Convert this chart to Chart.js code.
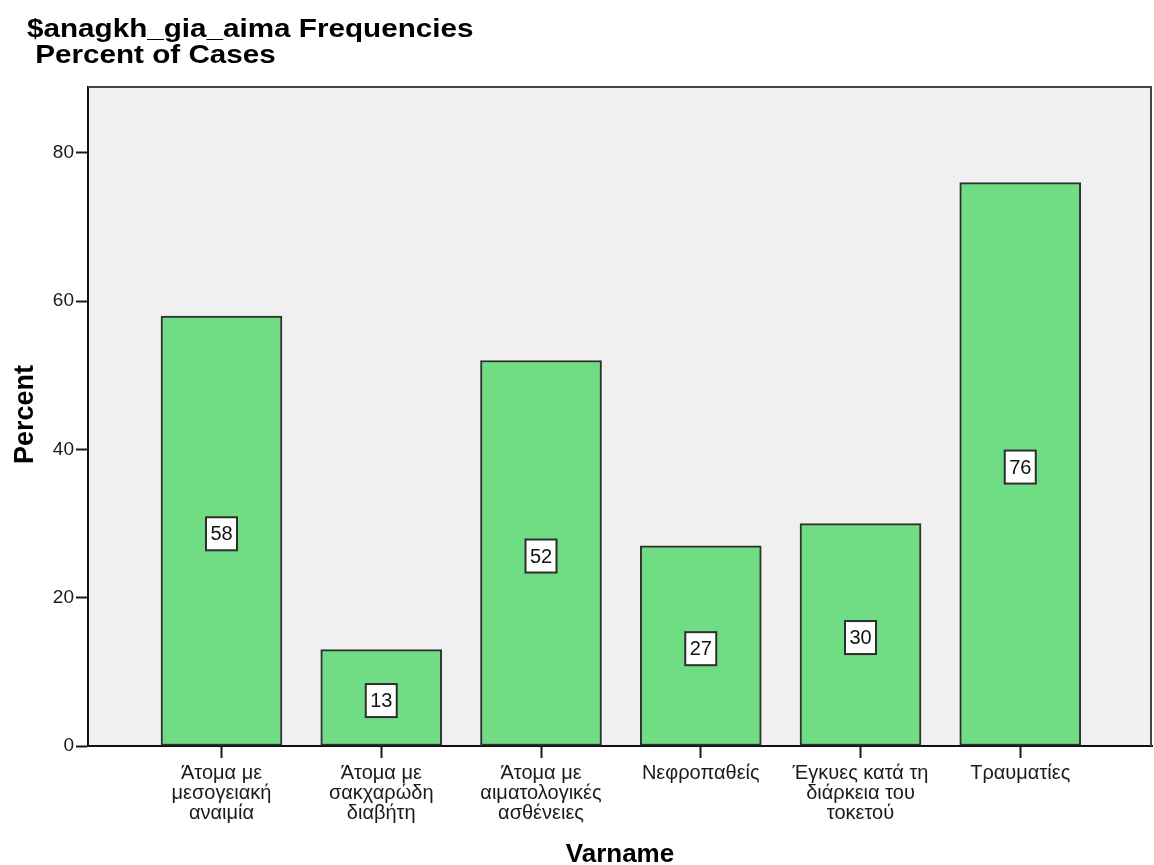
<!DOCTYPE html>
<html>
<head>
<meta charset="utf-8">
<style>
  html, body { margin: 0; padding: 0; background: #fff; }
  canvas { display: block; }
</style>
<script src="https://cdn.jsdelivr.net/npm/chart.js@4/dist/chart.umd.min.js"></script>
</head>
<body>
<canvas id="chart" width="1154" height="865" style="width:1154px;height:865px"></canvas>
<script>
// Categories (wrapped label lines) and percent of cases for each
const categories = [
  ['Άτομα με', 'μεσογειακή', 'αναιμία'],
  ['Άτομα με', 'σακχαρώδη', 'διαβήτη'],
  ['Άτομα με', 'αιματολογικές', 'ασθένειες'],
  ['Νεφροπαθείς'],
  ['Έγκυες κατά τη', 'διάρκεια του', 'τοκετού'],
  ['Τραυματίες']
];
const percentOfCases = [58, 13, 52, 27, 30, 76];
const percentTicks = [0, 20, 40, 60, 80];

const titleLines = ['$anagkh_gia_aima Frequencies', ' Percent of Cases'];
const yTitle = 'Percent';
const xTitle = 'Varname';

const FONT = "'Liberation Sans', Arial, sans-serif";

// Plot background, value boxes, frame and titles
const decor = {
  id: 'decor',
  beforeDraw(chart) {
    const { ctx, chartArea: a } = chart;
    ctx.save();
    ctx.fillStyle = '#ffffff';
    ctx.fillRect(0, 0, chart.width, chart.height);
    ctx.fillStyle = '#f0f0f0';
    ctx.fillRect(a.left, a.top, a.right - a.left, a.bottom - a.top);
    ctx.restore();
  },
  afterDatasetsDraw(chart) {
    const { ctx } = chart;
    const meta = chart.getDatasetMeta(0);
    ctx.save();
    ctx.font = '20px ' + FONT;
    ctx.textAlign = 'center';
    ctx.textBaseline = 'middle';
    meta.data.forEach((bar, i) => {
      const cx = bar.x;
      const cy = (bar.y + bar.base) / 2 + 3;
      const w = 31, h = 33;
      ctx.fillStyle = '#ffffff';
      ctx.fillRect(cx - w / 2, cy - h / 2, w, h);
      ctx.strokeStyle = '#2e2e2e';
      ctx.lineWidth = 2;
      ctx.strokeRect(cx - w / 2, cy - h / 2, w, h);
      ctx.fillStyle = '#111111';
      ctx.fillText(String(percentOfCases[i]), cx, cy + 1);
    });
    ctx.restore();
  },
  afterDraw(chart) {
    const { ctx, chartArea: a } = chart;
    ctx.save();
    // top and right frame edges
    ctx.strokeStyle = '#444444';
    ctx.lineWidth = 2;
    ctx.beginPath();
    ctx.moveTo(a.left, a.top);
    ctx.lineTo(a.right - 1, a.top);
    ctx.lineTo(a.right - 1, a.bottom);
    ctx.stroke();

    // chart title (slightly widened letterforms)
    ctx.fillStyle = '#000000';
    ctx.textAlign = 'left';
    ctx.textBaseline = 'alphabetic';
    ctx.font = 'bold 26px ' + FONT;
    ctx.save();
    ctx.translate(27, 0);
    ctx.scale(1.14, 1);
    ctx.fillText(titleLines[0], 0, 37);
    ctx.fillText(titleLines[1], 0, 63);
    ctx.restore();

    // axis titles
    ctx.textAlign = 'center';
    ctx.font = 'bold 26px ' + FONT;
    ctx.fillText(xTitle, (a.left + a.right) / 2, 862);
    ctx.font = 'bold 27px ' + FONT;
    ctx.translate(33, (a.top + a.bottom) / 2 - 2);
    ctx.rotate(-Math.PI / 2);
    ctx.fillText(yTitle, 0, 0);
    ctx.restore();
  }
};

new Chart(document.getElementById('chart'), {
  type: 'bar',
  data: {
    datasets: [{
      data: percentOfCases.map((v, i) => ({ x: i, y: v })),
      backgroundColor: '#70dc84',
      borderColor: '#2f2f2f',
      borderWidth: 2,
      borderSkipped: false,
      barThickness: 121
    }]
  },
  options: {
    responsive: false,
    animation: false,
    devicePixelRatio: 1,
    layout: { padding: { top: 87, right: 2, left: 0, bottom: 0 } },
    plugins: {
      legend: { display: false },
      tooltip: { enabled: false },
      title: { display: false }
    },
    scales: {
      x: {
        type: 'linear',
        offset: false,
        min: -0.8357,
        max: 5.8247,
        afterBuildTicks(scale) {
          scale.ticks = categories.map((c, i) => ({ value: i }));
        },
        afterFit(scale) { scale.height = 119; },
        ticks: {
          autoSkip: false,
          maxRotation: 0,
          minRotation: 0,
          padding: 5,
          color: '#1a1a1a',
          font: { family: FONT, size: 20, lineHeight: 1.0 },
          callback: (value) => categories[value]
        },
        grid: {
          display: true,
          offset: false,
          drawOnChartArea: false,
          drawTicks: true,
          tickLength: 12,
          tickWidth: 2,
          tickColor: '#1a1a1a'
        },
        border: { display: true, color: '#111111', width: 2 }
      },
      y: {
        type: 'linear',
        min: 0,
        max: 88.9,
        afterBuildTicks(scale) {
          scale.ticks = percentTicks.map(v => ({ value: v }));
        },
        afterFit(scale) { scale.width = 88; },
        ticks: {
          padding: 2,
          color: '#1a1a1a',
          font: { family: FONT, size: 19 }
        },
        grid: {
          display: true,
          drawOnChartArea: false,
          drawTicks: true,
          tickLength: 12,
          tickWidth: 2,
          tickColor: '#1a1a1a'
        },
        border: { display: true, color: '#111111', width: 2 }
      }
    }
  },
  plugins: [decor]
});
</script>
</body>
</html>
